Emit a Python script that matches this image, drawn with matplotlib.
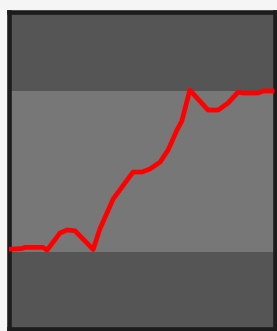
import matplotlib
matplotlib.use('Agg')
import matplotlib.pyplot as plt

# data (time in minutes, value relative to band 0..100)
t = [0, 3.0, 3.7, 7.8, 8.7, 11.6, 13.2, 15.0, 19.1, 20.6, 22.2, 23.6, 25.6,
     28.1, 30.1, 31.9, 34.2, 36.0, 38.0, 39.1, 40.9, 45.0, 47.3, 49.5, 51.8,
     52.7, 56.3, 57.4, 60]
level = [1.7, 2.2, 2.9, 2.9, 1.2, 11.8, 13.7, 13.2, 1.6, 14.3, 24.2, 32.9,
         40.4, 49.7, 49.7, 51.6, 55.9, 63.4, 75.8, 81.4, 100.6, 88.2, 88.2,
         92.5, 99.4, 98.8, 98.8, 100, 100]
band_low, band_high = 0, 100

W, H = 277, 331
fig = plt.figure(figsize=(W / 100, H / 100), dpi=100, facecolor='#f5f5f5')
ax = fig.add_axes([8.5 / W, 1 - 329 / H, 266 / W, 317 / H])
ax.set_facecolor('#555555')

ax.axhspan(band_low, band_high, color='#777777', lw=0, zorder=1)
ax.plot(t, level, color='#ff0000', linewidth=3.4, solid_joinstyle='round',
        solid_capstyle='butt', zorder=3)

ax.set_xlim(0, 60)
ax.set_ylim(-47.8, 149.1)
ax.set_xticks([])
ax.set_yticks([])
for s in ax.spines.values():
    s.set_color('#1c1c1c')
    s.set_linewidth(3.3)

fig.savefig('out.png', dpi=100, facecolor=fig.get_facecolor())
